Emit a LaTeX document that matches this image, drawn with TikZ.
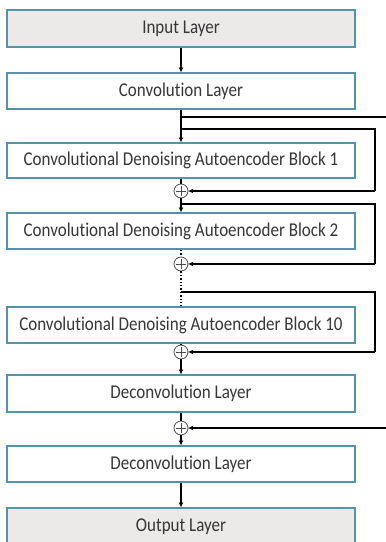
\documentclass[tikz,border=0pt]{standalone}
\usepackage{fontspec}
\setmainfont{Carlito}[Ligatures=NoCommon]
\usetikzlibrary{arrows.meta}
\definecolor{boxedge}{HTML}{5493AB}
\definecolor{boxfill}{HTML}{ECE9E9}
\definecolor{txt}{HTML}{363636}
\newcommand{\lbl}[1]{\scalebox{1}[1.15]{#1}}
\begin{document}
\begin{tikzpicture}[x=1pt,y=-1pt,
  layer/.style={draw=boxedge,line width=1.8pt,minimum width=348pt,inner sep=0pt,text=txt,font=\fontsize{17}{20}\selectfont},
  iobox/.style={layer,fill=boxfill},
  sumnode/.style={circle,draw=black!70,line width=0.8pt,minimum size=14pt,inner sep=0pt,fill=white},
  plus/.style={line width=0.8pt,black!70},
  conn/.style={line width=1.4pt,black},
  arr/.style={conn,-{Stealth[length=5pt,width=4.5pt]}},
  dot/.style={line width=1.4pt,black,dotted}]
\useasboundingbox (0,0) rectangle (386,542);
\node[iobox,minimum height=37pt] (in) at (181,28.5) {\lbl{Input Layer}};
\node[layer,minimum height=36pt] (conv) at (181,91) {\lbl{Convolution Layer}};
\node[layer,minimum height=35pt] (b1) at (181,160.5) {\lbl{Convolutional Denoising Autoencoder Block 1}};
\node[sumnode] (c1) at (181,191) {};
\node[layer,minimum height=36pt] (b2) at (181,231) {\lbl{Convolutional Denoising Autoencoder Block 2}};
\node[sumnode] (c2) at (181,264) {};
\node[layer,minimum height=36pt] (b10) at (181,325) {\lbl{Convolutional Denoising Autoencoder Block 10}};
\node[sumnode] (c3) at (181,352) {};
\node[layer,minimum height=37pt] (d1) at (181,393.5) {\lbl{Deconvolution Layer}};
\node[sumnode] (c4) at (181,428) {};
\node[layer,minimum height=36pt] (d2) at (181,464) {\lbl{Deconvolution Layer}};
\node[iobox,minimum height=38pt] (out) at (181,527) {\lbl{Output Layer}};
\foreach \c in {c1,c2,c3,c4}{\draw[plus] (\c.center)+(0,-5) -- +(0,5) (\c.center)+(-5,0) -- +(5,0);}
\coordinate (s0) at (181,117);
\coordinate (s1) at (181,129);
\coordinate (s2) at (181,204);
\coordinate (s3) at (181,292);
\draw[arr] (in) -- (conv);
\draw[arr] (conv) -- (b1);
\draw[conn] (s0) -- (400,117) -- (400,428) coordinate (e4);
\draw[arr] (e4) -- (c4);
\draw[conn] (s1) -- (375,129) -- (375,191) coordinate (e1);
\draw[arr] (e1) -- (c1);
\draw[conn] (b1) -- (c1);
\draw[arr] (c1) -- (b2);
\draw[conn] (s2) -- (375,204) -- (375,264) coordinate (e2);
\draw[arr] (e2) -- (c2);
\draw[dot] (b2) -- (c2);
\draw[dot] (c2) -- (b10);
\draw[conn] (s3) -- (375,292) -- (375,352) coordinate (e3);
\draw[arr] (e3) -- (c3);
\draw[conn] (b10) -- (c3);
\draw[arr] (c3) -- (d1);
\draw[conn] (d1) -- (c4);
\draw[arr] (c4) -- (d2);
\draw[arr] (d2) -- (out);
\end{tikzpicture}
\end{document}
